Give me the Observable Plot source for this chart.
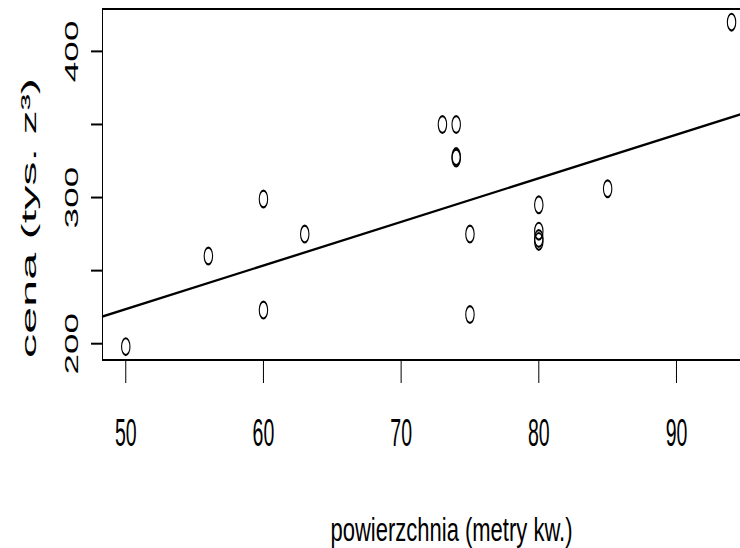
<!DOCTYPE html>
<html>
<head>
<meta charset="utf-8">
<script src="https://cdn.jsdelivr.net/npm/d3@7"></script>
<script src="https://cdn.jsdelivr.net/npm/@observablehq/plot@0.6"></script>
<style>
  html, body { margin: 0; padding: 0; background: #fff; }
  #chart svg { display: block; }
</style>
</head>
<body>
<div id="chart"></div>
<script>
// Data
const area  = [50, 56, 60, 60, 63, 73, 74, 74, 74, 75, 75, 80, 80, 80, 80, 85, 94];
const price = [198, 260, 299, 223, 275, 350, 350, 327, 328, 275, 220, 295, 277, 272, 270, 306, 420];
const xTicks = [50, 60, 70, 80, 90];
const yTicks = [200, 250, 300, 350, 400];
const yLabels = [200, 300, 400];
const xTitle = "powierzchnia (metry kw.)";
const yTitle = "cena (tys. z³)";

const data = area.map((a, i) => ({area: a, price: price[i]}));

// least-squares fit (abline over the full plot region)
const mx = d3.mean(area), my = d3.mean(price);
const slope = d3.sum(data, d => (d.area - mx) * (d.price - my)) / d3.sum(data, d => (d.area - mx) ** 2);
const intercept = my - slope * mx;

const xDomain = [48.31, 94.65];
const yDomain = [188.85, 429.0];
const fitLine = xDomain.map(x => ({area: x, price: intercept + slope * x}));

const font = "Liberation Sans, Arial, Helvetica, sans-serif";
const VW = 740, VH = 274; // virtual size, stretched to 740x548

const chart = Plot.plot({
  width: VW,
  height: VH,
  marginLeft: 102,
  marginRight: 0,
  marginTop: 4,
  marginBottom: 94.5,
  style: {fontFamily: font, color: "black", background: "white"},
  x: {domain: xDomain},
  y: {domain: yDomain},
  marks: [
    Plot.ruleY([yDomain[1]], {stroke: "black", strokeWidth: 1}),
    Plot.ruleY([yDomain[0]], {stroke: "black", strokeWidth: 1}),
    Plot.ruleX([xDomain[0]], {stroke: "black", strokeWidth: 1}),
    Plot.axisX({anchor: "bottom", ticks: xTicks, tickSize: 12, tickPadding: 17, fontSize: 19.5, label: null, stroke: "black", strokeWidth: 1, tickFormat: d => String(d)}),
    Plot.axisY({anchor: "left", ticks: yTicks, tickSize: 11, tickFormat: () => "", label: null, stroke: "black", strokeWidth: 1}),
    Plot.text(yLabels, {y: d => d, frameAnchor: "left", dx: -30.5, rotate: -90, text: d => String(d), fontSize: 18.5, textAnchor: "middle", lineAnchor: "middle", fill: "black"}),
    Plot.text([yTitle], {frameAnchor: "left", dx: -73, dy: 16.75, rotate: -90, text: d => d, fontSize: 20, textAnchor: "middle", lineAnchor: "middle", fill: "black", className: "ytitle"}),
    Plot.text([xTitle], {frameAnchor: "bottom", dx: 30, dy: 90.5, text: d => d, fontSize: 17, textAnchor: "middle", lineAnchor: "bottom", fill: "black", className: "xtitle"}),
    Plot.line(fitLine, {x: "area", y: "price", stroke: "black", strokeWidth: 1.2}),
    Plot.dot(data, {x: "area", y: "price", r: 4.2, stroke: "black", strokeWidth: 1.1, fill: "none"})
  ]
});

// stretch the virtual canvas to the reference's aspect
chart.setAttribute("width", 740);
chart.setAttribute("height", 548);
chart.setAttribute("viewBox", `0 0 ${VW} ${VH}`);
chart.setAttribute("preserveAspectRatio", "none");
chart.style.width = "740px";
chart.style.height = "548px";
chart.style.maxWidth = "none";

d3.select(chart).selectAll(".xtitle text").attr("textLength", 242).attr("lengthAdjust", "spacingAndGlyphs");
d3.select(chart).selectAll(".ytitle text").attr("textLength", 140).attr("lengthAdjust", "spacingAndGlyphs");

document.getElementById("chart").appendChild(chart);
</script>
</body>
</html>
